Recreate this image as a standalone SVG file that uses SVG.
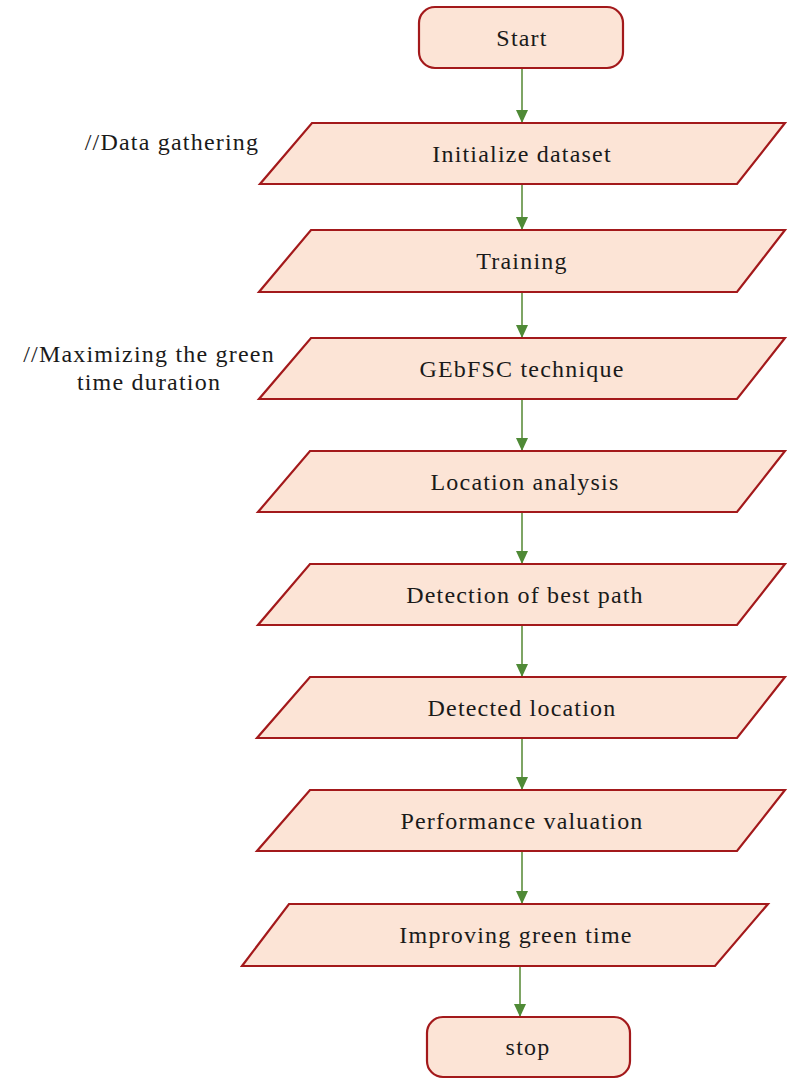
<svg xmlns="http://www.w3.org/2000/svg" width="787" height="1079" viewBox="0 0 787 1079">
<style>
.t{stroke:#a3191b;stroke-width:2.2;fill:#fce4d6}
.lbl{font-family:"Liberation Serif",serif;font-size:24px;letter-spacing:1.2px;fill:#1a1a1a;text-anchor:middle}
.cm{font-family:"Liberation Serif",serif;font-size:24px;letter-spacing:1.2px;fill:#1a1a1a;text-anchor:middle}
.c{stroke:#5e8f3e;stroke-width:1.6;fill:none}
</style>
<defs>
<marker id="ah" markerWidth="14" markerHeight="12" refX="12" refY="6" orient="auto" markerUnits="userSpaceOnUse">
<path d="M0,0 L13,6 L0,12 Z" fill="#4f8a36"/>
</marker>
</defs>
<rect width="787" height="1079" fill="#ffffff"/>
<g id="connectors">
<line class="c" x1="522" y1="68" x2="522" y2="122" marker-end="url(#ah)"/>
<line class="c" x1="522" y1="185" x2="522" y2="229" marker-end="url(#ah)"/>
<line class="c" x1="522" y1="293" x2="522" y2="337" marker-end="url(#ah)"/>
<line class="c" x1="522" y1="400" x2="522" y2="450" marker-end="url(#ah)"/>
<line class="c" x1="522" y1="513" x2="522" y2="563" marker-end="url(#ah)"/>
<line class="c" x1="522" y1="626" x2="522" y2="676" marker-end="url(#ah)"/>
<line class="c" x1="522" y1="739" x2="522" y2="789" marker-end="url(#ah)"/>
<line class="c" x1="522" y1="852" x2="522" y2="903" marker-end="url(#ah)"/>
<line class="c" x1="520" y1="966" x2="520" y2="1016" marker-end="url(#ah)"/>
</g>
<g id="start">
<rect class="t" x="419" y="7" width="204" height="61" rx="16"/>
<text class="lbl" x="522" y="46">Start</text>
</g>
<g id="comment1">
<text class="cm" x="172" y="150">//Data gathering</text>
</g>
<g id="n1">
<polygon class="t" points="312,123 785,123 737,184 260,184"/>
<text class="lbl" x="522" y="162">Initialize dataset</text>
</g>
<g id="n2">
<polygon class="t" points="311,230 785,230 737,292 259,292"/>
<text class="lbl" x="522" y="269">Training</text>
</g>
<g id="comment2">
<text class="cm" x="149" y="362">//Maximizing the green</text>
<text class="cm" x="149" y="390">time duration</text>
</g>
<g id="n3">
<polygon class="t" points="311,338 785,338 737,399 259,399"/>
<text class="lbl" x="522" y="377">GEbFSC technique</text>
</g>
<g id="n4">
<polygon class="t" points="310,451 785,451 737,512 258,512"/>
<text class="lbl" x="525" y="490">Location analysis</text>
</g>
<g id="n5">
<polygon class="t" points="310,564 785,564 737,625 258,625"/>
<text class="lbl" x="525" y="603">Detection of best path</text>
</g>
<g id="n6">
<polygon class="t" points="310,677 785,677 737,738 257,738"/>
<text class="lbl" x="522" y="716">Detected location</text>
</g>
<g id="n7">
<polygon class="t" points="310,790 785,790 737,851 257,851"/>
<text class="lbl" x="522" y="829">Performance valuation</text>
</g>
<g id="n8">
<polygon class="t" points="289,904 768,904 715,966 242,966"/>
<text class="lbl" x="516" y="943">Improving green time</text>
</g>
<g id="stop">
<rect class="t" x="427" y="1017" width="203" height="60" rx="16"/>
<text class="lbl" x="528" y="1055">stop</text>
</g>
</svg>
